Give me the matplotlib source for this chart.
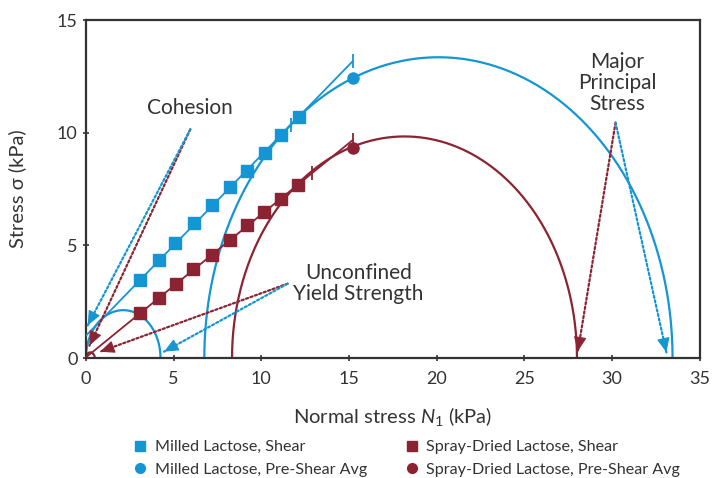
import numpy as np
import matplotlib.pyplot as plt

plt.rcParams['font.family'] = ['Lato', 'DejaVu Sans']
plt.rcParams['mathtext.fontset'] = 'custom'
plt.rcParams['mathtext.it'] = 'Lato:italic'
plt.rcParams['mathtext.rm'] = 'Lato'

blue = '#1496d4'
red = '#8c2332'
txt_col = '#333333'

# Shear points
milled_x = [3.1, 4.15, 5.1, 6.15, 7.2, 8.2, 9.2, 10.2, 11.15, 12.15]
milled_y = [3.47, 4.36, 5.1, 6.0, 6.8, 7.57, 8.32, 9.1, 9.9, 10.72]
spray_x = [3.1, 4.15, 5.13, 6.13, 7.18, 8.2, 9.17, 10.13, 11.1, 12.08]
spray_y = [1.98, 2.66, 3.28, 3.94, 4.58, 5.26, 5.9, 6.5, 7.08, 7.68]

# Pre-shear averages
milled_pre = (15.2, 12.42)
spray_pre = (15.22, 9.32)

# Yield loci (x range, intercept, slope) and tick positions along them
milled_locus = (0, 15.2, 0.99, 0.801)
spray_locus = (0, 15.2, 0.03, 0.634)
milled_ticks = [11.7, 15.2]
spray_ticks = [12.9, 15.2]

# Mohr circles (sigma_min, sigma_max)
milled_circles = [(0.0, 4.25), (6.75, 33.45)]
spray_circles = [(0.0, 0.5), (8.33, 28.0)]

fig = plt.figure(figsize=(7.14, 4.78), dpi=100)
ax = fig.add_axes([0.1204, 0.251, 0.8596, 0.707])
ax.set_xlim(0, 35)
ax.set_ylim(0, 15)


def locus(ax, spec, ticks, color):
    x0, x1, b, m = spec
    xs = np.array([x0, x1])
    ax.plot(xs, b + m * xs, color=color, lw=1.3, zorder=3)
    t = np.array(ticks)
    ax.plot(t, b + m * t, ls='none', marker='|', ms=10, mew=1.3, color=color, zorder=3)


def mohr(ax, lo, hi, color):
    c = (lo + hi) / 2
    r = (hi - lo) / 2
    th = np.linspace(0, np.pi, 400)
    ax.plot(c + r * np.cos(th), r * np.sin(th), color=color, lw=1.6, zorder=2)


def dotted_arrow(ax, start, tip, color):
    ax.annotate('', xy=tip, xytext=start,
                arrowprops=dict(arrowstyle='-', color=color, lw=1.6,
                                linestyle=(0, (1, 1.1)), shrinkA=0, shrinkB=0))
    # solid head: short segment ending at the tip
    p0 = ax.transData.transform(start)
    p1 = ax.transData.transform(tip)
    d = (p1 - p0) / np.hypot(*(p1 - p0))
    back = ax.transData.inverted().transform(p1 - d * 10)
    ax.annotate('', xy=tip, xytext=back,
                arrowprops=dict(arrowstyle='-|>,head_length=0.75,head_width=0.33',
                                color=color, lw=0.8, mutation_scale=12,
                                shrinkA=0, shrinkB=0))


for lo, hi in milled_circles:
    mohr(ax, lo, hi, blue)
for lo, hi in spray_circles:
    mohr(ax, lo, hi, red)

locus(ax, milled_locus, milled_ticks, blue)
locus(ax, spray_locus, spray_ticks, red)

ax.plot(milled_x, milled_y, ls='none', marker='s', ms=8, color=blue, zorder=4)
ax.plot(spray_x, spray_y, ls='none', marker='s', ms=8, color=red, zorder=4)
ax.plot(*milled_pre, ls='none', marker='o', ms=8, color=blue, zorder=4)
ax.plot(*spray_pre, ls='none', marker='o', ms=8, color=red, zorder=4)

# annotations
labels = ['Cohesion', 'Unconfined\nYield Strength', 'Major\nPrincipal\nStress']
label_pos = [(5.9, 11.1), (15.55, 3.3), (30.3, 12.2)]
arrow_start = [(5.95, 10.15), (11.5, 3.3), (30.2, 10.45)]
arrow_blue = [(0.1, 1.45), (4.45, 0.28), (33.1, 0.25)]
arrow_red = [(0.2, 0.55), (0.8, 0.28), (28.05, 0.3)]

for txt, pos, st, tb, tr in zip(labels, label_pos, arrow_start, arrow_blue, arrow_red):
    ax.text(pos[0], pos[1], txt, ha='center', va='center', fontsize=15,
            color=txt_col, linespacing=1.05)
    dotted_arrow(ax, st, tr, red)
    dotted_arrow(ax, st, tb, blue)

ax.set_xticks(range(0, 36, 5))
ax.set_yticks([0, 5, 10, 15])
ax.tick_params(labelsize=13, colors=txt_col, length=4, width=1.2, direction='inout')
ax.tick_params(axis='x', pad=7)
ax.tick_params(axis='y', pad=4)
for s in ax.spines.values():
    s.set_color(txt_col)
    s.set_linewidth(1.6)

ax.set_xlabel(r'Normal stress $\mathit{N_1}$ (kPa)', fontsize=14.5, color=txt_col, labelpad=13)
ax.set_ylabel('Stress σ (kPa)', fontsize=14.5, color=txt_col, labelpad=22)

# legend
h1, = ax.plot([], [], ls='none', marker='s', ms=7, color=blue)
h2, = ax.plot([], [], ls='none', marker='o', ms=7, color=blue)
h3, = ax.plot([], [], ls='none', marker='s', ms=7, color=red)
h4, = ax.plot([], [], ls='none', marker='o', ms=7, color=red)
fig.legend([h1, h2, h3, h4],
           ['Milled Lactose, Shear', 'Milled Lactose, Pre-Shear Avg',
            'Spray-Dried Lactose, Shear', 'Spray-Dried Lactose, Pre-Shear Avg'],
           ncol=2, loc='upper left', bbox_to_anchor=(132 / 714, 1 - 440 / 478),
           frameon=False, borderpad=0, borderaxespad=0,
           fontsize=11.6, handletextpad=0.4, columnspacing=2.3, labelspacing=0.5,
           handlelength=1.0, labelcolor=txt_col)

fig.savefig('out.png', dpi=100)
